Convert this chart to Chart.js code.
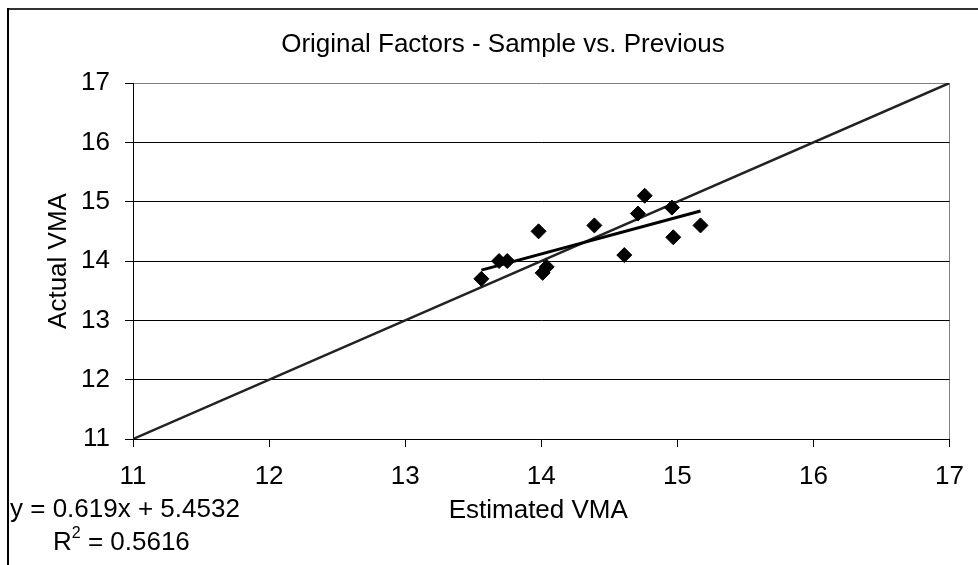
<!DOCTYPE html>
<html><head><meta charset="utf-8">
<script src="https://cdn.jsdelivr.net/npm/chart.js@4.4.1/dist/chart.umd.min.js"></script>
<style>html,body{margin:0;padding:0;background:#fff}#wrap{position:relative;width:978px;height:565px}</style>
</head><body><div id="wrap"><canvas id="c" width="978" height="565"></canvas></div>
<script>
const chartTitle = 'Original Factors - Sample vs. Previous';
const xAxisTitle = 'Estimated VMA';
const yAxisTitle = 'Actual VMA';
const estimatedVMA = [13.56, 13.69, 13.75, 13.98, 14.01, 14.04, 14.39, 14.61, 14.71, 14.76, 14.96, 14.97, 15.17];
const actualVMA    = [13.70, 14.00, 14.00, 14.50, 13.80, 13.90, 14.60, 14.10, 14.80, 15.10, 14.90, 14.40, 14.60];
const axisTicks = [11, 12, 13, 14, 15, 16, 17];
const equalityLine = [11, 17];
const trendSlope = 0.619;
const trendIntercept = 5.4532;
const equationText = 'y = 0.619x + 5.4532';
const r2Text = '0.5616';

const FONT = "'Liberation Sans', Arial, sans-serif";
const FS = 26;

const points = estimatedVMA.map((x, i) => ({x, y: actualVMA[i]}));
const xMin = Math.min(...estimatedVMA), xMax = Math.max(...estimatedVMA);
const trendPts = [xMin, xMax].map(x => ({x, y: trendSlope * x + trendIntercept}));
const diagPts = equalityLine.map(v => ({x: v, y: v}));

const decor = {
  id: 'decor',
  beforeDraw(chart) {
    const ctx = chart.ctx;
    ctx.save();
    ctx.fillStyle = '#fff';
    ctx.fillRect(0, 0, chart.width, chart.height);
    ctx.lineWidth = 2;
    ctx.strokeStyle = '#333';
    ctx.beginPath(); ctx.moveTo(7, 9); ctx.lineTo(chart.width, 9); ctx.stroke();
    ctx.strokeStyle = '#000';
    ctx.beginPath(); ctx.moveTo(8, 8); ctx.lineTo(8, chart.height); ctx.stroke();
    ctx.restore();
  },
  afterDraw(chart) {
    const ctx = chart.ctx;
    const a = chart.chartArea;
    ctx.save();
    ctx.fillStyle = '#000';
    ctx.font = FS + 'px ' + FONT;
    ctx.textBaseline = 'alphabetic';
    ctx.textAlign = 'center';
    ctx.fillText(chartTitle, 503, 52);
    ctx.fillText(xAxisTitle, (a.left + a.right) / 2 - 3, 518);
    ctx.save();
    ctx.translate(66, (a.top + a.bottom) / 2);
    ctx.rotate(-Math.PI / 2);
    ctx.fillText(yAxisTitle, 0, 0);
    ctx.restore();
    ctx.textAlign = 'left';
    ctx.fillText(equationText, 10, 517);
    let x = 53;
    ctx.fillText('R', x, 550);
    x += ctx.measureText('R').width;
    ctx.font = Math.round(FS * 0.6) + 'px ' + FONT;
    ctx.fillText('2', x, 538);
    x += ctx.measureText('2').width;
    ctx.font = FS + 'px ' + FONT;
    ctx.fillText(' = ' + r2Text, x, 550);
    ctx.restore();
  }
};

new Chart(document.getElementById('c'), {
  type: 'scatter',
  data: {
    datasets: [
      {label: 'data', data: points, pointStyle: 'rectRot', pointRadius: 7.5, pointBackgroundColor: '#000', pointBorderColor: '#000', pointBorderWidth: 1, showLine: false, order: 0},
      {label: 'trend', data: trendPts, showLine: true, borderColor: '#000', borderWidth: 3, pointRadius: 0, order: 1},
      {label: 'y=x', data: diagPts, showLine: true, borderColor: '#222', borderWidth: 2.5, pointRadius: 0, order: 2}
    ]
  },
  options: {
    responsive: false,
    animation: false,
    layout: {padding: {left: 0, top: 83, right: 28, bottom: 0}},
    plugins: {legend: {display: false}, tooltip: {enabled: false}, title: {display: false}},
    scales: {
      x: {
        type: 'linear', min: 11, max: 17,
        afterBuildTicks: s => { s.ticks = axisTicks.map(v => ({value: v})); },
        afterFit: s => { s.height = 126; },
        border: {color: '#000', width: 1},
        grid: {
          color: c => (c.tick && c.tick.value === 17) ? '#808080' : 'rgba(0,0,0,0)',
          tickColor: '#000', tickLength: 8, lineWidth: 1, drawOnChartArea: true
        },
        ticks: {color: '#000', font: {family: FONT, size: FS}, padding: 14, maxRotation: 0, autoSkip: false}
      },
      y: {
        type: 'linear', min: 11, max: 17,
        afterBuildTicks: s => { s.ticks = axisTicks.map(v => ({value: v})); },
        afterFit: s => { s.width = 133; },
        border: {color: '#000', width: 1},
        grid: {
          color: c => (c.tick && c.tick.value === 17) ? '#808080' : '#000',
          tickColor: '#000', tickLength: 8, lineWidth: 1
        },
        ticks: {color: '#000', font: {family: FONT, size: FS}, padding: 15, autoSkip: false}
      }
    }
  },
  plugins: [decor]
});
</script>
</body></html>
